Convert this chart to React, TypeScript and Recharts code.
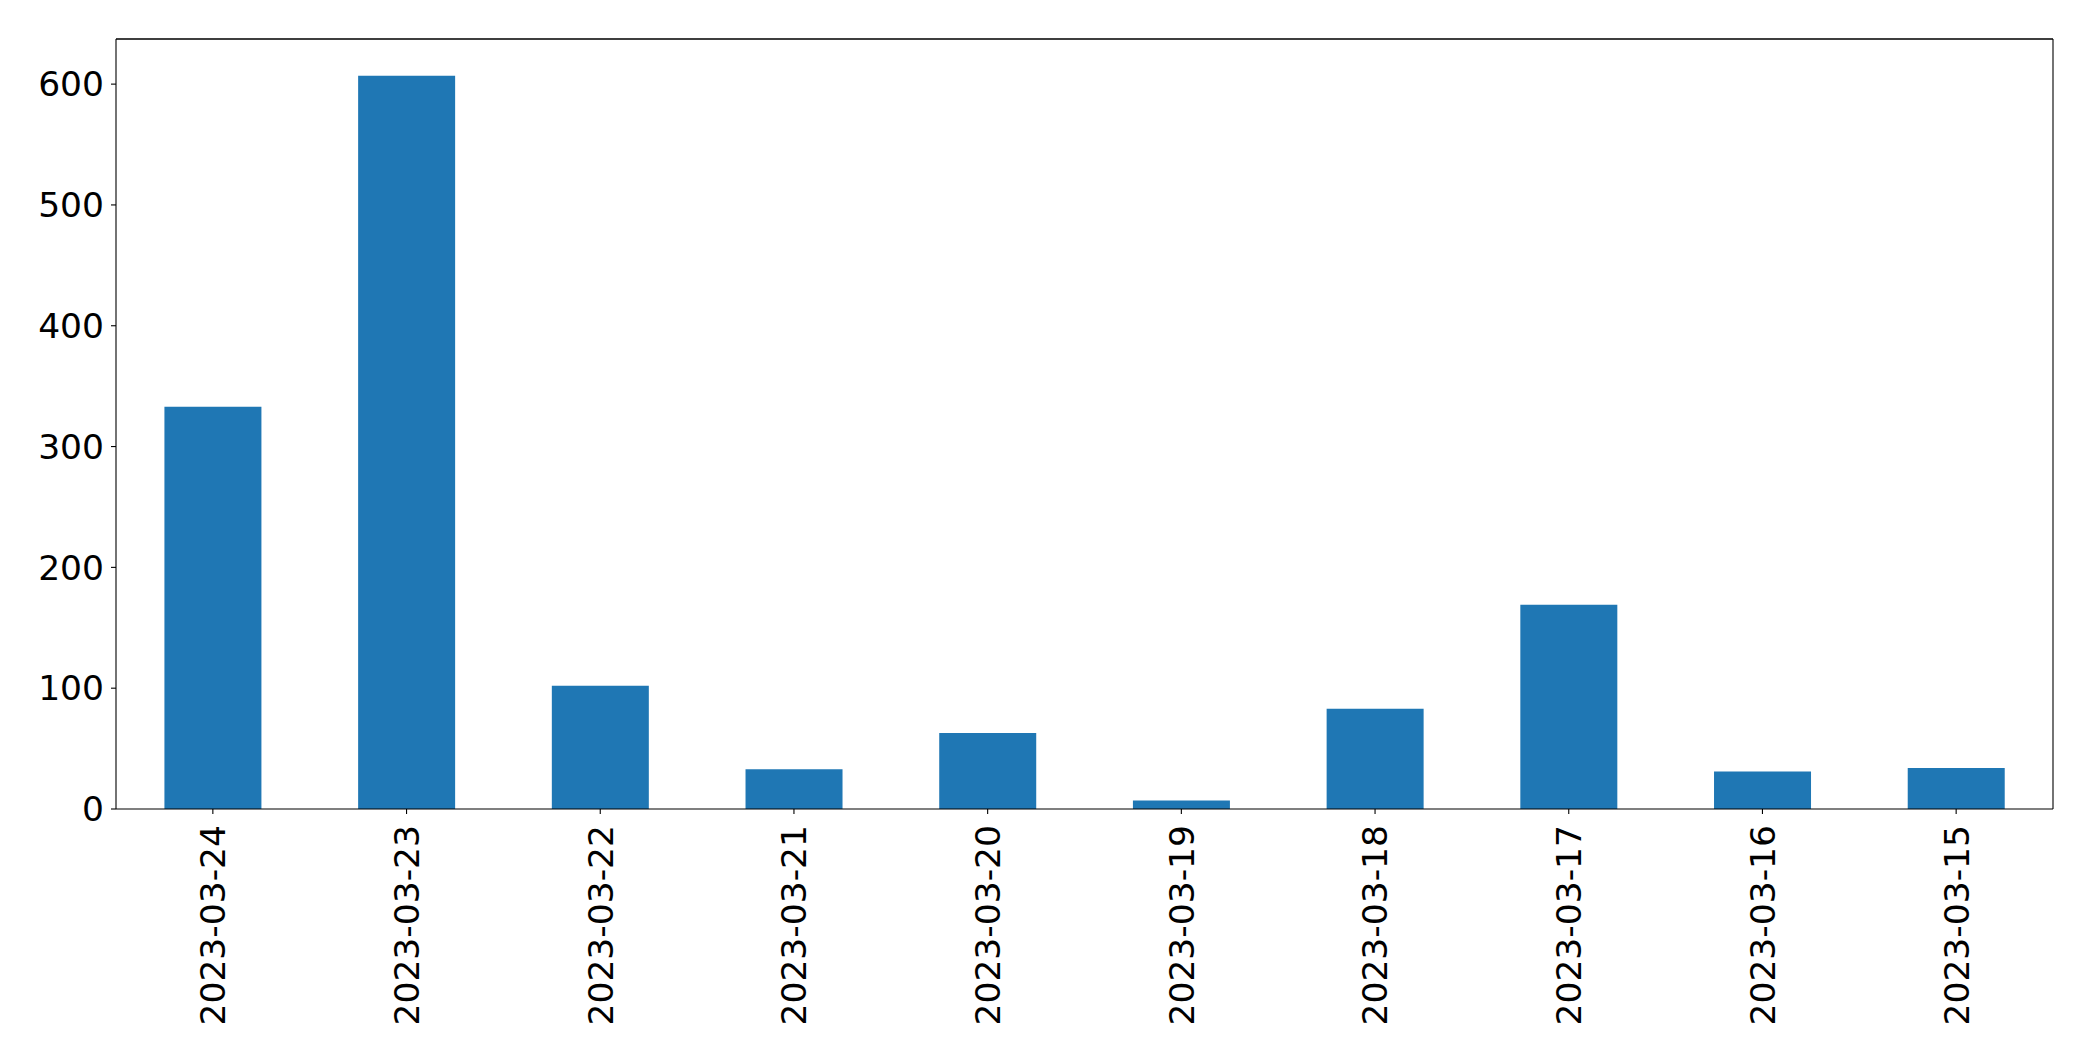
import { BarChart, Bar, XAxis, YAxis, ReferenceLine } from "recharts"

const dates = [
  "2023-03-24",
  "2023-03-23",
  "2023-03-22",
  "2023-03-21",
  "2023-03-20",
  "2023-03-19",
  "2023-03-18",
  "2023-03-17",
  "2023-03-16",
  "2023-03-15",
]
const counts = [333, 607, 102, 33, 63, 7, 83, 169, 31, 34]
const yTicks = [0, 100, 200, 300, 400, 500, 600]

const data = dates.map((d, i) => ({ date: d, count: counts[i] }))

const FONT = "DejaVu Sans"
const FONT_SIZE = 34.5
const yMax = Math.max(...counts) * 1.05

// x labels are vertical, reading bottom to top, hanging under the tick
function DateTick(props: any) {
  const { x, y, payload } = props
  return (
    <text
      x={x}
      y={y}
      transform={`rotate(-90, ${x}, ${y})`}
      textAnchor="end"
      dy="0.36em"
      fontFamily={FONT}
      fontSize={FONT_SIZE}
      fill="#000"
    >
      {payload.value}
    </text>
  )
}

export default function App() {
  return (
    <div style={{ position: "absolute", left: 0, top: 0, width: 2093, height: 1061, background: "#fff" }}>
      <BarChart
        width={2093}
        height={1061}
        data={data}
        margin={{ top: 38, right: 39, bottom: 0, left: 0 }}
        barCategoryGap="25%"
      >
        <XAxis
          xAxisId="x"
          dataKey="date"
          height={252}
          interval={0}
          tickSize={5}
          tickMargin={11}
          axisLine={{ stroke: "#000", strokeWidth: 1.1 }}
          tickLine={{ stroke: "#000", strokeWidth: 1.1 }}
          tick={<DateTick />}
        />
        <XAxis
          xAxisId="top"
          dataKey="date"
          orientation="top"
          height={1}
          tick={false}
          tickLine={false}
          axisLine={{ stroke: "#000", strokeWidth: 1.1 }}
        />
        <YAxis
          yAxisId="y"
          width={116}
          domain={[0, yMax]}
          ticks={yTicks}
          interval={0}
          tickSize={5}
          tickMargin={7}
          axisLine={{ stroke: "#000", strokeWidth: 1.1 }}
          tickLine={{ stroke: "#000", strokeWidth: 1.1 }}
          tick={{ fontFamily: FONT, fontSize: FONT_SIZE, fill: "#000" }}
        />
        <YAxis
          yAxisId="right"
          orientation="right"
          width={1}
          domain={[0, yMax]}
          tick={false}
          tickLine={false}
          axisLine={{ stroke: "#000", strokeWidth: 1.1 }}
        />
        <ReferenceLine xAxisId="x" yAxisId="y" y={yMax} stroke="#000" strokeWidth={1.1} />
        <Bar
          xAxisId="x"
          yAxisId="y"
          dataKey="count"
          fill="#1f77b4"
          isAnimationActive={false}
        />
      </BarChart>
    </div>
  )
}
